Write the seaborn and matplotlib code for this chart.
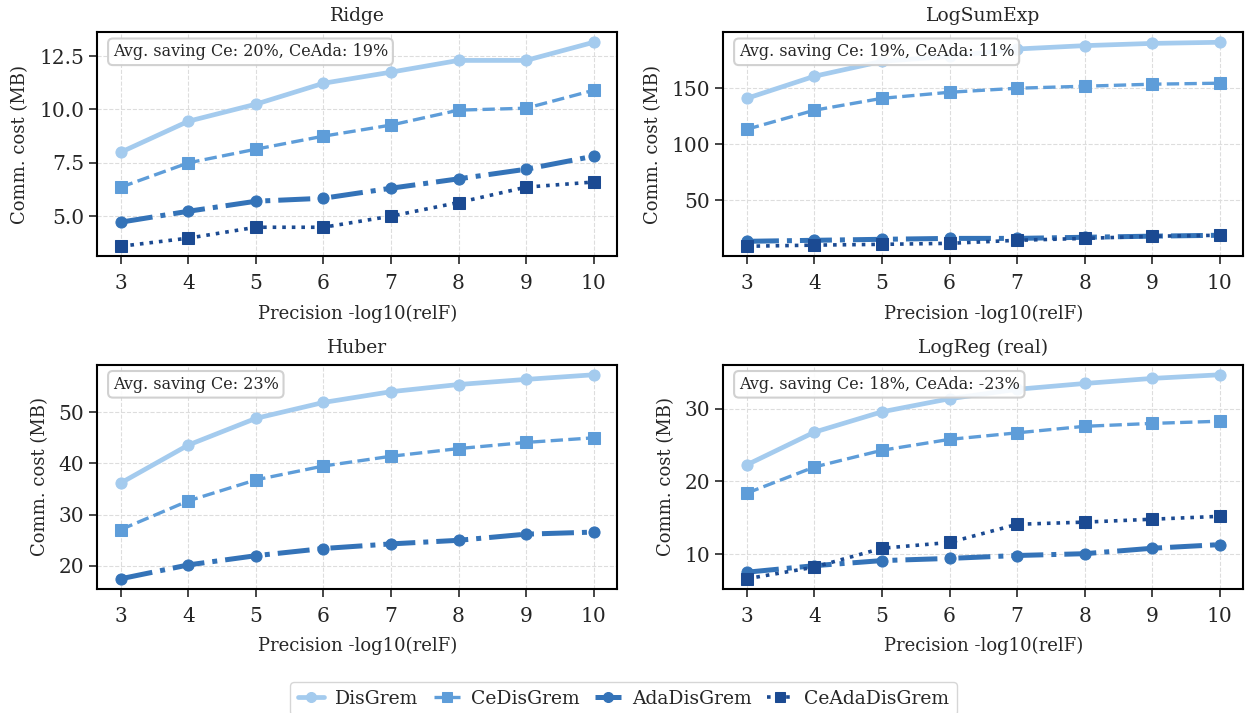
import numpy as np
import pandas as pd
import matplotlib
matplotlib.use("Agg")
import matplotlib.pyplot as plt
import seaborn as sns

# Precision levels on the x axis
precision = [3, 4, 5, 6, 7, 8, 9, 10]

# Communication cost (MB) per problem and method
ridge_dis = [8.0, 9.45, 10.25, 11.23, 11.75, 12.3, 12.3, 13.15]
ridge_ce = [6.36, 7.5, 8.14, 8.75, 9.27, 9.97, 10.06, 10.9]
ridge_ada = [4.72, 5.23, 5.7, 5.84, 6.31, 6.75, 7.2, 7.81]
ridge_ceada = [3.59, 3.97, 4.48, 4.48, 5.0, 5.64, 6.36, 6.6]

lse_dis = [141.0, 160.7, 174.0, 178.5, 185.0, 188.0, 190.0, 191.0]
lse_ce = [113.4, 130.4, 141.0, 146.4, 150.0, 151.8, 153.6, 154.5]
lse_ada = [13.4, 14.3, 15.2, 16.0, 16.0, 17.0, 18.0, 18.8]
lse_ceada = [9.0, 10.0, 10.7, 11.6, 14.3, 16.0, 17.9, 18.8]

huber_dis = [36.2, 43.6, 48.8, 51.9, 54.0, 55.4, 56.4, 57.3]
huber_ce = [27.1, 32.7, 36.8, 39.5, 41.4, 42.9, 44.1, 45.0]
huber_ada = [17.5, 20.2, 22.0, 23.4, 24.3, 25.0, 26.2, 26.6]

logreg_dis = [22.3, 26.8, 29.6, 31.4, 32.7, 33.5, 34.2, 34.7]
logreg_ce = [18.4, 22.0, 24.3, 25.8, 26.7, 27.6, 28.0, 28.3]
logreg_ada = [7.5, 8.4, 9.1, 9.4, 9.8, 10.05, 10.8, 11.3]
logreg_ceada = [6.6, 8.2, 10.8, 11.6, 14.1, 14.4, 14.8, 15.2]

# Y tick positions per panel
ridge_yticks = [5.0, 7.5, 10.0, 12.5]
lse_yticks = [50, 100, 150]
huber_yticks = [20, 30, 40, 50]
logreg_yticks = [10, 20, 30]

methods = ["DisGrem", "CeDisGrem", "AdaDisGrem", "CeAdaDisGrem"]
panel_titles = ["Ridge", "LogSumExp", "Huber", "LogReg (real)"]
panel_notes = [
    "Avg. saving Ce: 20%, CeAda: 19%",
    "Avg. saving Ce: 19%, CeAda: 11%",
    "Avg. saving Ce: 23%",
    "Avg. saving Ce: 18%, CeAda: -23%",
]
panel_series = [
    [ridge_dis, ridge_ce, ridge_ada, ridge_ceada],
    [lse_dis, lse_ce, lse_ada, lse_ceada],
    [huber_dis, huber_ce, huber_ada, None],
    [logreg_dis, logreg_ce, logreg_ada, logreg_ceada],
]
panel_yticks = [ridge_yticks, lse_yticks, huber_yticks, logreg_yticks]

colors = ["#a4cbee", "#5e9dd9", "#3473b8", "#1b4a92"]
styles = {
    "DisGrem": dict(ls="-", marker="o", lw=3.4, ms=8),
    "CeDisGrem": dict(ls="--", marker="s", lw=2.4, ms=8),
    "AdaDisGrem": dict(ls="-.", marker="o", lw=3.6, ms=8),
    "CeAdaDisGrem": dict(ls=":", marker="s", lw=2.6, ms=8),
}

sns.set_theme(style="ticks")
plt.rcParams["font.family"] = ["DejaVu Serif"]

fig, axes = plt.subplots(2, 2, figsize=(12.47, 7.13), dpi=100)
fig.subplots_adjust(left=0.078, right=0.997, top=0.955, bottom=0.174,
                    wspace=0.204, hspace=0.482)

handles = {}
for ax, title, note, series, yt in zip(axes.flat, panel_titles, panel_notes,
                                       panel_series, panel_yticks):
    for name, color, vals in zip(methods, colors, series):
        if vals is None:
            continue
        df = pd.DataFrame({"precision": precision, "cost": vals})
        st = styles[name]
        sns.lineplot(data=df, x="precision", y="cost", ax=ax, color=color,
                     linestyle=st["ls"], marker=st["marker"], linewidth=st["lw"],
                     markersize=st["ms"], markeredgecolor=color, label=name,
                     legend=False)
        handles[name] = ax.lines[-1]
    ax.set_title(title, fontsize=13.5, pad=8)
    ax.set_xlabel("Precision -log10(relF)", fontsize=13, labelpad=8)
    ax.set_ylabel("Comm. cost (MB)", fontsize=13, labelpad=7)
    ax.set_xticks(precision)
    ax.set_yticks(yt)
    ax.tick_params(axis="both", labelsize=14.5, length=6, width=1.2)
    ax.tick_params(axis="x", pad=7)
    ax.grid(True, ls="--", lw=0.8, color="#dddddd")
    for sp in ax.spines.values():
        sp.set_linewidth(1.5)
        sp.set_color("black")
    ax.text(0.03, 0.95, note, transform=ax.transAxes, fontsize=11.5,
            va="top", ha="left",
            bbox=dict(boxstyle="round,pad=0.3", fc="white", ec="#cccccc",
                      lw=1.5, alpha=0.9))

fig.legend([handles[m] for m in methods], methods, loc="lower center",
           bbox_to_anchor=(0.5, -0.016), ncol=4, fontsize=13.5,
           frameon=True, edgecolor="#cccccc", handlelength=1.4,
           handletextpad=0.6, columnspacing=0.8, markerscale=0.9)

fig.savefig("out.png", dpi=100)
